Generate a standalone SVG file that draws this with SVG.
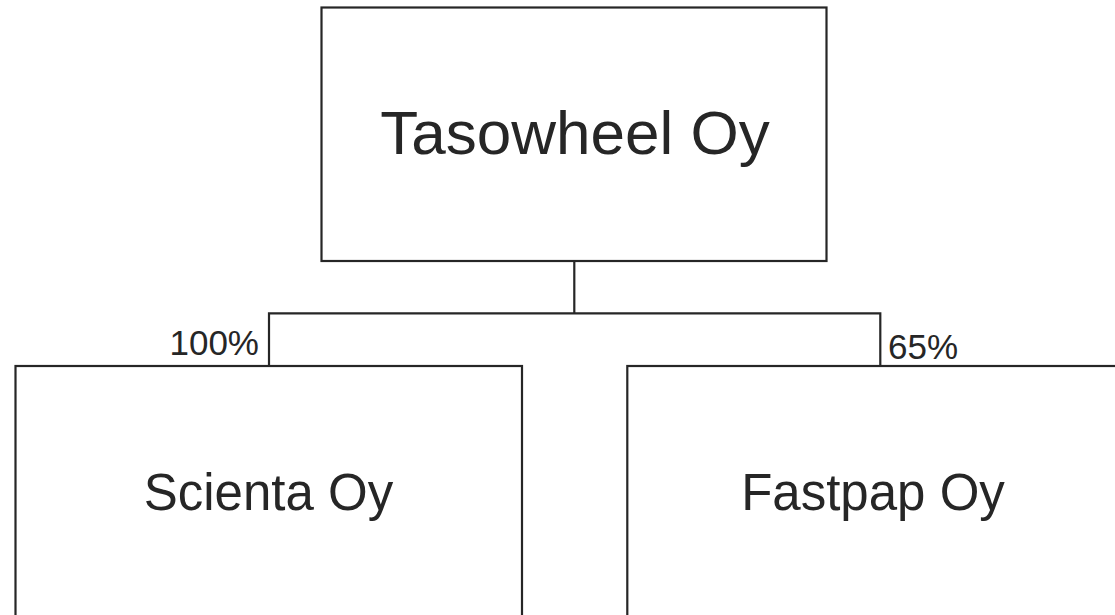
<svg xmlns="http://www.w3.org/2000/svg" width="1115" height="615" viewBox="0 0 1115 615">
<style>
.box{fill:#fff;stroke:#262626;stroke-width:2.2}
.ln{fill:none;stroke:#262626;stroke-width:2.2}
text{font-family:"Liberation Sans",Arial,sans-serif;fill:#262626}
.big{font-size:62px;text-anchor:middle}
.mid{font-size:51px;text-anchor:middle}
.pct{font-size:35px}
</style>
<rect width="1115" height="615" fill="#fff"/>
<g id="connectors">
<path class="ln" d="M574.3,261 V313.3 M269,366 V313.3 H880.3 V366"/>
<text class="pct" x="259" y="355" text-anchor="end">100%</text>
<text class="pct" x="888" y="359">65%</text>
</g>
<g id="tasowheel">
<rect class="box" x="321.5" y="7.5" width="505" height="253.5"/>
<text class="big" x="575" y="154">Tasowheel Oy</text>
</g>
<g id="scienta">
<rect class="box" x="15.5" y="366" width="506.5" height="260"/>
<text class="mid" x="268.5" y="510">Scienta Oy</text>
</g>
<g id="fastpap">
<rect class="box" x="627.3" y="366" width="506.5" height="260"/>
<text class="mid" x="873" y="510">Fastpap Oy</text>
</g>
</svg>
